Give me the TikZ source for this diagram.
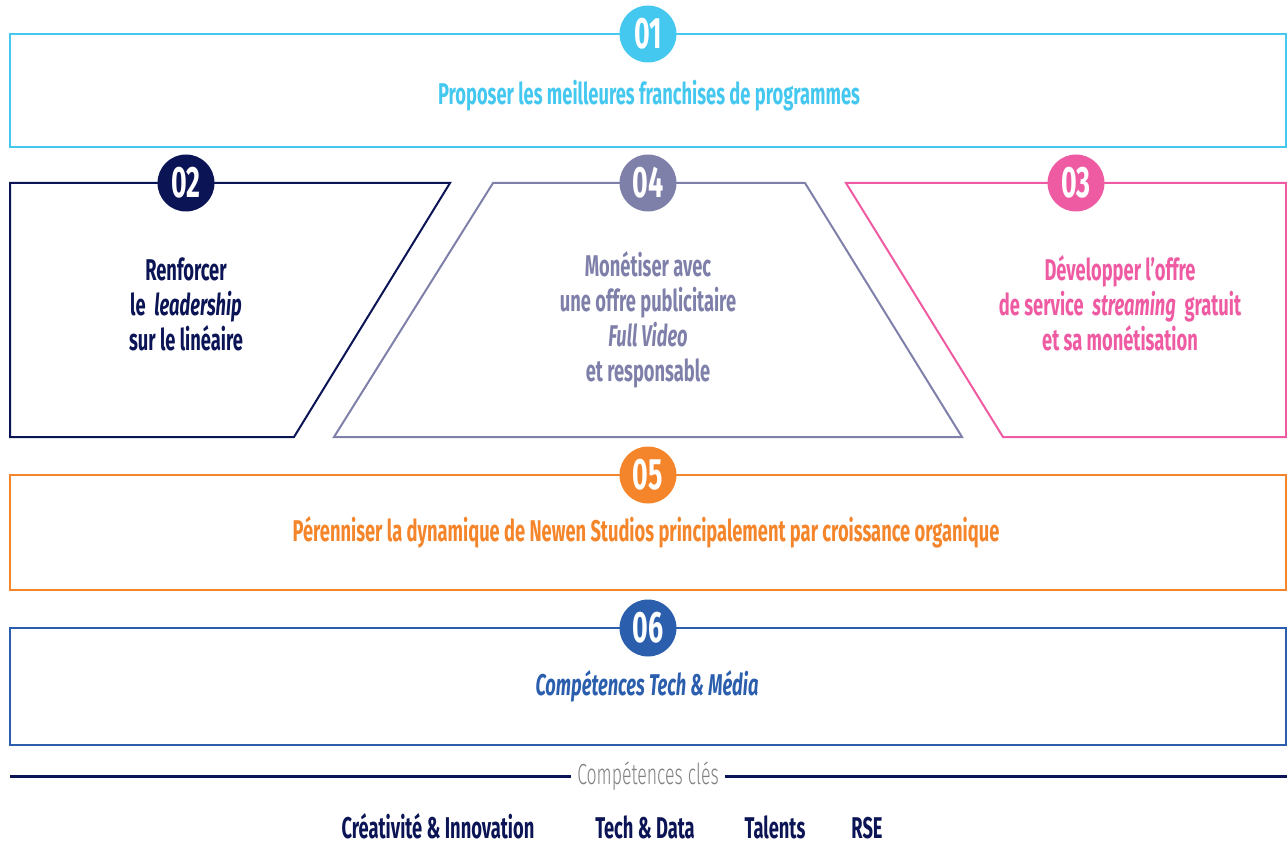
\documentclass[tikz,border=0pt]{standalone}
\usepackage{fontspec}
\setmainfont{Fira Sans}[FakeStretch=0.61]
\newfontfamily\lightfont{Fira Sans Light}[FakeStretch=0.61]
\usepackage{xcolor}
\usetikzlibrary{positioning}

\definecolor{skyline}{HTML}{45C8F0}
\definecolor{navyline}{HTML}{0B1455}
\definecolor{lilacline}{HTML}{7F80AA}
\definecolor{pinkline}{HTML}{EE5BA2}
\definecolor{orangeline}{HTML}{F5852A}
\definecolor{blueline}{HTML}{2B5FAE}

\tikzset{
  numdot/.style={circle, fill=#1, text=white, minimum size=57pt, inner sep=0pt,
    font={\bfseries\fontsize{44}{44}\selectfont}},
  boxtext/.style={text=#1, align=center, font={\bfseries\fontsize{30}{35}\selectfont}},
  frame/.style={draw=#1, line width=2pt, line join=miter}
}

\begin{document}
\begin{tikzpicture}[x=1pt, y=-1pt]
    \useasboundingbox (0,0) rectangle (1287,845);

    % frames
    \draw[frame=skyline] (10,34) rectangle (1286,147);
    \draw[frame=navyline] (10,183) -- (450,183) -- (294,437) -- (10,437) -- cycle;
    \draw[frame=lilacline] (493,183) -- (805,183) -- (962,437) -- (334,437) -- cycle;
    \draw[frame=pinkline] (846,183) -- (1286,183) -- (1286,437) -- (1003,437) -- cycle;
    \draw[frame=orangeline] (10,475) rectangle (1286,590);
    \draw[frame=blueline] (10,628) rectangle (1286,745);

    % numbers
    \node[numdot=skyline] (num1) at (648,34) {01};
    \node[numdot=navyline] (num2) at (186,183) {02};
    \node[numdot=lilacline] (num4) at (648,183) {04};
    \node[numdot=pinkline] (num3) at (1076,183) {03};
    \node[numdot=orangeline] (num5) at (648,475) {05};
    \node[numdot=blueline] (num6) at (648,628) {06};

    % labels
    \node[boxtext=skyline] (lab1) at (649,96) {Proposer les meilleures franchises de programmes};
    \node[boxtext=navyline] (lab2) at (186,304) {Renforcer\\le~~\textit{leadership}\\sur le linéaire};
    \node[boxtext=lilacline] (lab4) at (648,320) {Monétiser avec\\une offre publicitaire\\\textit{Full Video}\\et responsable};
    \node[boxtext=pinkline] (lab3) at (1120,303) {Développer l'offre\\de service~~\textit{streaming}~~gratuit\\et sa monétisation};
    \node[boxtext=orangeline] (lab5) at (646,532) {Pérenniser la dynamique de Newen Studios principalement par croissance organique};
    \node[boxtext=blueline] (lab6) at (647,686) {\textit{Compétences Tech \& Média}};

    % key skills
    \node[text=gray, font={\lightfont\fontsize{29}{29}\selectfont}, inner sep=6pt] (cles) at (648,776) {Compétences clés};
    \coordinate (clesL) at (10,776);
    \coordinate (clesR) at (1287,776);
    \draw[navyline, line width=3pt] (clesL) -- (cles.west);
    \draw[navyline, line width=3pt] (cles.east) -- (clesR);

    \node[boxtext=navyline, anchor=base, inner sep=0pt] (creat) at (438,838) {Créativité \& Innovation};
    \node[boxtext=navyline, anchor=base, inner sep=0pt] (techdata) at (645,838) {Tech \& Data};
    \node[boxtext=navyline, anchor=base, inner sep=0pt] (talents) at (775,838) {Talents};
    \node[boxtext=navyline, anchor=base, inner sep=0pt] (rse) at (867,838) {RSE};
  \end{tikzpicture}
\end{document}
